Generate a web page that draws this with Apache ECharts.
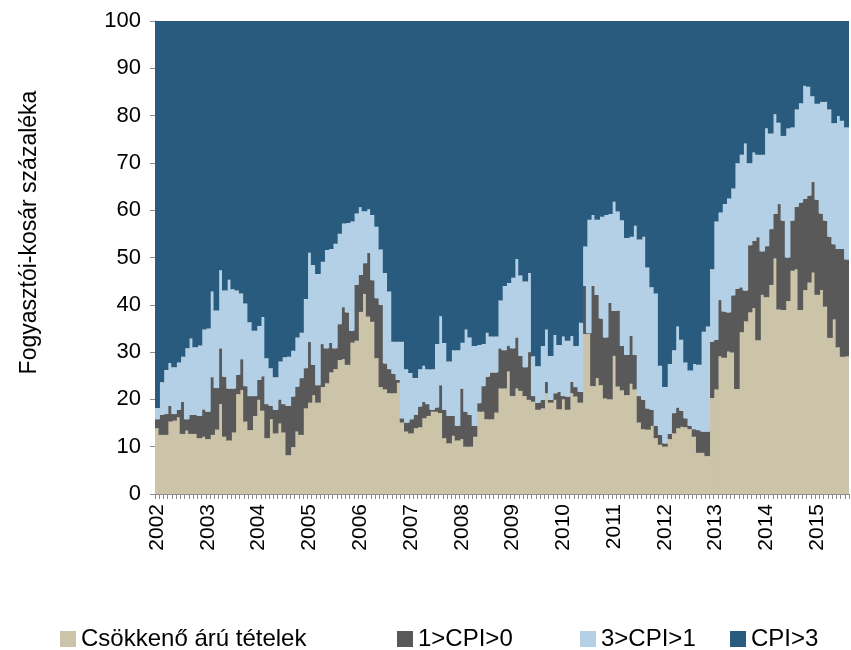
<!DOCTYPE html>
<html>
<head>
<meta charset="utf-8">
<script src="https://cdn.jsdelivr.net/npm/echarts@6/dist/echarts.min.js"></script>
<style>
html,body{margin:0;padding:0;background:#ffffff;}
#chart{width:851px;height:650px;}
</style>
</head>
<body>
<div id="chart"></div>
<script>
// Year tick labels (one label every 12 months, first month of the series is Feb 2002)
const yearLabels = ['2002','2003','2004','2005','2006','2007','2008','2009','2010','2011','2012','2013','2014','2015'];
const firstMonth = 2;      // February 2002
const monthCount = 164;    // Feb 2002 .. Sep 2015

// Series values (% of consumer basket), monthly
const decliningItems = [
 13.9,12.5,12.5,15.3,15.5,16.2,12.7,13.4,12.7,12.7,
 11.8,12.1,11.6,12.5,13.6,19.0,12.1,11.3,13.0,21.1,
 22.0,15.3,13.5,16.5,19.9,17.6,11.8,15.8,12.8,14.9,
 13.0,8.2,9.9,13.2,12.5,18.1,19.3,20.9,19.3,22.6,
 23.4,25.7,26.4,28.3,28.5,27.3,32.0,32.4,38.5,42.3,
 37.5,36.4,28.7,22.6,22.1,21.3,21.3,23.5,15.1,13.2,
 12.8,13.9,14.1,16.0,16.5,17.4,17.4,17.1,11.8,10.7,
 12.3,11.3,11.6,10.0,10.0,12.1,17.4,17.4,15.8,15.8,
 17.2,22.3,22.3,25.9,20.7,22.3,21.8,20.7,19.9,19.5,
 17.8,18.1,21.3,19.3,19.9,17.9,20.0,17.8,21.3,20.6,
 19.3,33.8,33.8,22.8,24.5,23.0,20.2,20.0,29.2,22.7,
 21.9,20.9,23.3,22.1,15.1,13.7,13.6,14.4,11.8,10.4,
 10.0,11.6,12.8,13.9,14.2,14.1,13.7,12.1,8.7,8.7,
 8.0,20.3,22.1,29.1,28.8,30.1,29.9,22.2,34.2,36.5,
 38.4,39.3,32.5,42.1,41.6,44.2,49.8,39.0,38.9,40.8,
 47.2,47.5,38.9,43.1,44.7,46.8,42.1,43.1,39.6,33.0,
 36.9,31.0,29.0,29.1
];
const cpi0to1 = [
 1.9,4.2,4.4,3.3,1.4,1.6,6.8,2.4,4.0,4.0,
 4.7,5.8,5.8,12.2,8.8,11.8,12.7,11.0,9.3,4.1,
 6.5,7.5,7.2,4.2,4.2,7.3,7.2,2.8,5.0,5.1,
 6.0,10.4,10.7,9.5,12.0,8.5,12.9,6.4,3.7,9.1,
 7.4,6.3,4.4,7.6,11.0,11.1,2.5,11.8,7.8,6.5,
 13.5,8.8,12.7,17.4,5.5,5.1,4.1,0.6,0.9,1.9,
 3.0,2.8,4.4,3.5,2.5,0.4,0.9,5.9,6.0,5.8,
 4.2,3.1,10.7,7.4,6.7,2.3,1.8,5.4,9.0,9.9,
 8.5,8.5,8.1,5.5,10.1,10.8,7.4,6.1,10.1,1.2,
 1.5,1.8,2.4,0.6,1.4,3.7,0.7,2.8,2.4,2.0,
 2.3,10.2,0.2,21.2,17.6,14.1,12.9,20.4,9.5,16.1,
 9.4,8.5,10.1,7.3,5.6,6.2,4.5,3.4,2.6,2.1,
 0.7,1.1,4.3,4.4,3.4,1.9,0.7,1.6,4.8,4.5,
 5.2,11.9,10.5,11.9,9.8,8.3,12.1,21.2,9.5,6.5,
 14.2,14.2,21.8,9.2,10.8,11.8,9.4,22.3,18.9,9.2,
 10.6,13.2,22.7,19.3,18.4,19.2,20.1,16.2,18.2,21.4,
 15.9,20.8,22.8,20.5
];
const cpi1to3 = [
 2.4,6.9,9.3,9.1,9.9,10.0,9.5,15.0,16.2,14.3,
 14.9,16.9,17.6,18.1,16.4,16.5,18.2,23.0,21.0,17.8,
 13.9,17.5,15.6,13.8,11.4,12.5,9.7,8.0,6.9,8.0,
 9.9,10.4,9.7,10.4,9.6,14.6,18.8,21.1,23.5,17.4,
 20.8,19.8,22.1,19.1,17.7,18.9,23.1,15.1,14.3,11.0,
 9.2,13.8,15.1,11.7,19.1,16.4,6.8,8.1,16.2,11.3,
 9.8,7.8,7.9,7.6,7.4,8.6,13.4,14.6,14.1,11.5,
 13.9,16.0,9.7,17.4,16.4,16.9,12.3,8.9,9.3,7.6,
 7.6,10.1,13.6,13.2,14.9,16.6,17.0,18.1,16.7,8.4,
 7.7,11.4,11.1,9.3,12.3,9.9,12.6,11.8,9.7,8.7,
 14.6,8.3,24.0,15.0,15.9,21.5,25.9,18.8,23.1,20.9,
 26.6,24.7,21.0,27.3,33.1,34.5,29.8,25.9,28.0,14.6,
 11.9,14.8,13.3,17.1,15.0,11.8,11.7,13.8,13.8,21.1,
 22.2,15.3,25.0,18.5,22.7,24.1,22.6,26.5,28.0,31.1,
 17.3,18.7,17.4,20.4,24.9,20.2,21.1,17.2,17.9,27.3,
 19.7,20.6,21.0,23.9,23.0,18.1,20.3,23.6,25.1,26.9,
 25.6,28.1,27.1,27.9
];
const cpiAbove3 = [
 81.8,76.4,73.8,72.3,73.2,72.2,71.0,69.2,67.1,69.0,
 68.6,65.2,65.0,57.2,61.2,52.7,57.0,54.7,56.7,57.0,
 57.6,59.7,63.7,65.5,64.5,62.6,71.3,73.4,75.3,72.0,
 71.1,71.0,69.7,66.9,65.9,58.8,49.0,51.6,53.5,50.9,
 48.4,48.2,47.1,45.0,42.8,42.7,42.4,40.7,39.4,40.2,
 39.8,41.0,43.5,48.3,53.3,57.2,67.8,67.8,67.8,73.6,
 74.4,75.5,73.6,72.9,73.6,73.6,68.3,62.4,68.1,72.0,
 69.6,69.6,68.0,65.2,66.9,68.7,68.5,68.3,65.9,66.7,
 66.7,59.1,56.0,55.4,54.3,50.3,53.8,55.1,53.3,70.9,
 73.0,68.7,65.2,70.8,66.4,68.5,66.7,67.6,66.6,68.7,
 63.8,47.7,42.0,41.0,42.0,41.4,41.0,40.8,38.2,40.3,
 42.1,45.9,45.6,43.3,46.2,45.6,52.1,56.3,57.6,72.9,
 77.4,72.5,69.6,64.6,67.4,72.2,73.9,72.5,72.7,65.7,
 64.6,52.5,42.4,40.5,38.7,37.5,35.4,30.1,28.3,25.9,
 30.1,27.8,28.3,28.3,22.7,23.8,19.7,21.5,24.3,22.7,
 22.5,18.7,17.4,13.7,13.9,15.9,17.5,17.1,17.1,18.7,
 21.6,20.1,21.1,22.5
];
const seriesNames = ['Csökkenő árú tételek', '1>CPI>0', '3>CPI>1', 'CPI>3'];
const yTicks = [0,10,20,30,40,50,60,70,80,90,100];

// Build month categories from the year labels
const categories = [];
for (let i = 0; i < monthCount; i++) {
  const m0 = firstMonth - 1 + i;
  const y = yearLabels[Math.floor(m0 / 12)] || String(2002 + Math.floor(m0 / 12));
  const mm = (m0 % 12) + 1;
  categories.push(y + '-' + (mm < 10 ? '0' + mm : mm));
}

const colors = ['#CCC4A8', '#595959', '#B3D0E6', '#295B7E'];
const FONT = 'Liberation Sans, Arial, sans-serif';
const axisGray = '#8C8C8C';
const GRID = { left: 155, right: 2, top: 21, bottom: 156 };
// bars slightly wider than one month slot so adjacent columns overlap (no anti-alias seams)
const slotWidth = (851 - GRID.left - GRID.right) / monthCount;
const BAR_WIDTH = slotWidth + 1.4;

function barSeries(name, data, color) {
  return {
    name: name, type: 'bar', stack: 'share', data: data,
    barWidth: BAR_WIDTH, barGap: '0%',
    itemStyle: { color: color, borderWidth: 0 },
    emphasis: { disabled: true }
  };
}

function legendItem(name, left) {
  return {
    data: [name], left: left, top: 627, orient: 'horizontal',
    icon: 'rect', itemWidth: 16, itemHeight: 16, itemGap: 5, padding: 0,
    selectedMode: false,
    textStyle: { fontFamily: FONT, fontSize: 24, color: '#000' }
  };
}

const chart = echarts.init(document.getElementById('chart'), null, { renderer: 'canvas' });
chart.setOption({
  animation: false,
  backgroundColor: '#ffffff',
  color: colors,
  grid: { left: GRID.left, right: GRID.right, top: GRID.top, bottom: GRID.bottom, containLabel: false },
  legend: [
    legendItem(seriesNames[0], 60),
    legendItem(seriesNames[1], 397),
    legendItem(seriesNames[2], 580),
    legendItem(seriesNames[3], 730)
  ],
  xAxis: {
    type: 'category', data: categories, boundaryGap: true,
    axisLine: { show: true, lineStyle: { color: axisGray, width: 1 } },
    axisTick: { show: true, interval: 0, length: 5, lineStyle: { color: axisGray } },
    axisLabel: {
      interval: 11, rotate: 90, margin: 10,
      fontFamily: FONT, fontSize: 21, color: '#000',
      formatter: function (v) { return v.slice(0, 4); }
    },
    splitLine: { show: false }
  },
  yAxis: {
    type: 'value', min: yTicks[0], max: yTicks[yTicks.length - 1], interval: 10,
    name: 'Fogyasztói-kosár százaléka', nameLocation: 'middle', nameRotate: 90, nameGap: 114,
    nameTextStyle: { fontFamily: FONT, fontSize: 23, color: '#000', padding: [0, 0, 0, 50] },
    axisLine: { show: true, lineStyle: { color: axisGray, width: 1 } },
    axisTick: { show: true, length: 5, lineStyle: { color: axisGray } },
    axisLabel: { margin: 14, fontFamily: FONT, fontSize: 22, color: '#000' },
    splitLine: { show: false }
  },
  series: [
    barSeries(seriesNames[0], decliningItems, colors[0]),
    barSeries(seriesNames[1], cpi0to1, colors[1]),
    barSeries(seriesNames[2], cpi1to3, colors[2]),
    barSeries(seriesNames[3], cpiAbove3, colors[3])
  ]
});
</script>
</body>
</html>
